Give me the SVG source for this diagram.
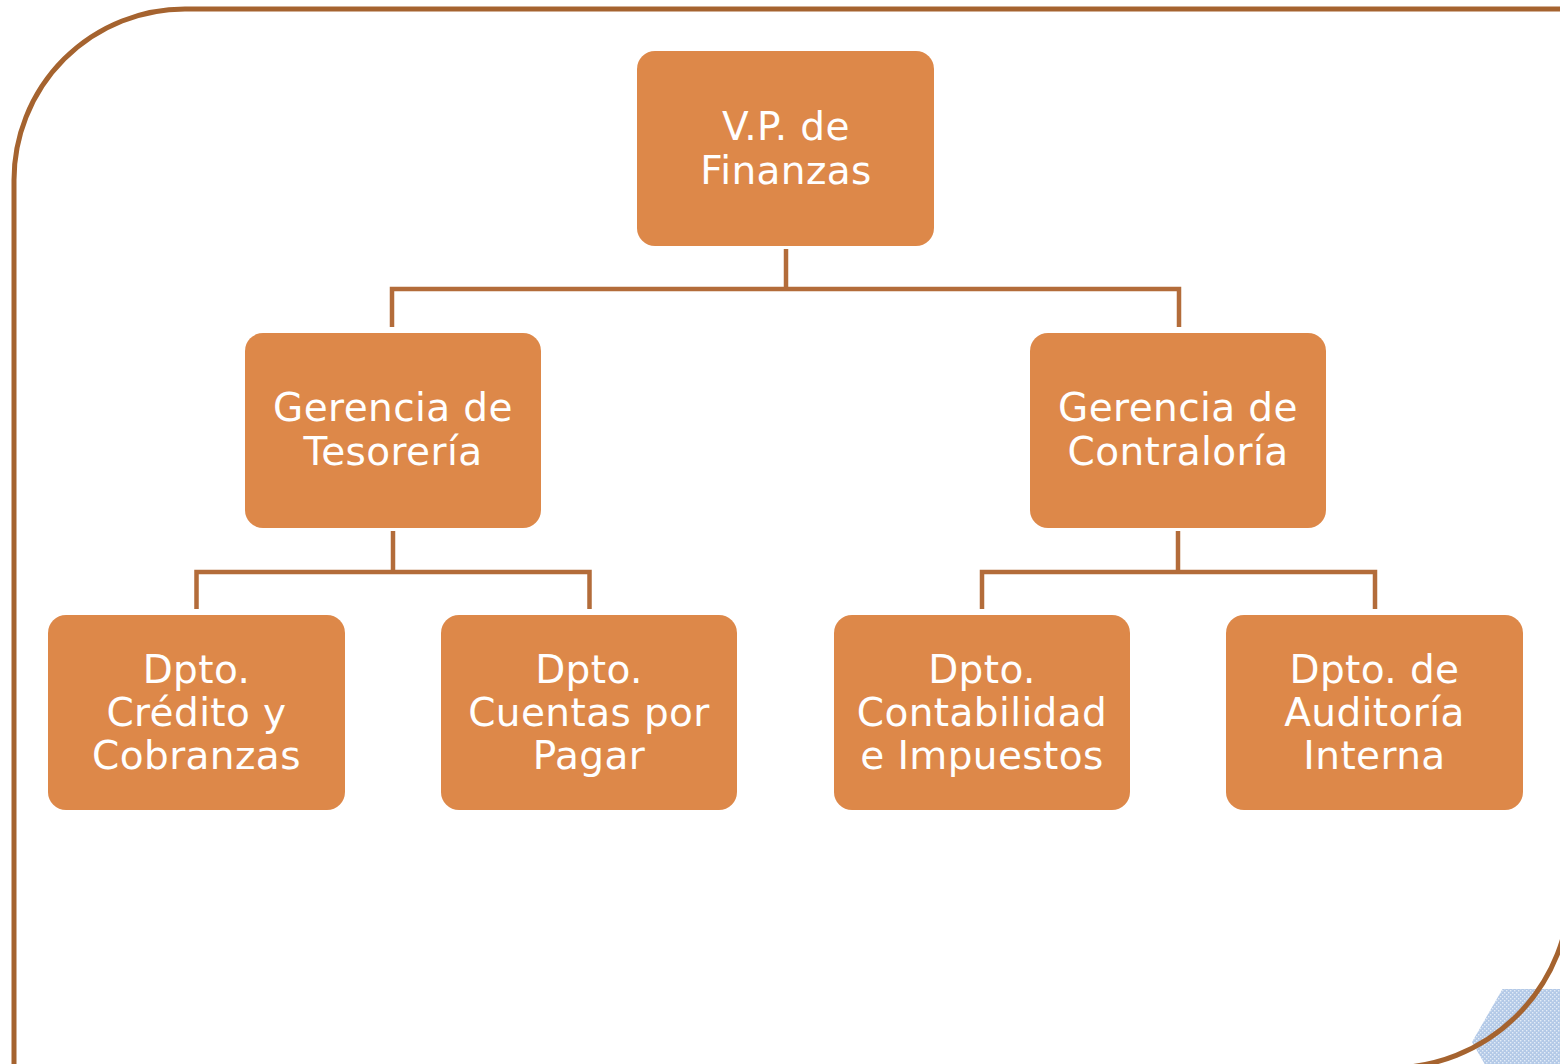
<svg xmlns="http://www.w3.org/2000/svg" width="1560" height="1064" viewBox="0 0 1560 1064">
  <style>
    .node rect { fill: #DD8849; }
    .node text { fill: #FFFFFF; font-family: "DejaVu Sans", Verdana, sans-serif; font-size: 39px; letter-spacing: 0.4px; text-anchor: middle; }
    .conn { fill: none; stroke: #B36C3A; stroke-width: 4.5; }
    .frame { fill: none; stroke: #A5632F; stroke-width: 5; }
  </style>
  <defs>
    <pattern id="dots" width="4" height="4" patternUnits="userSpaceOnUse">
      <rect width="4" height="4" fill="#B3C9E7"/>
      <rect x="0" y="0" width="1.4" height="1.4" fill="#E3ECF7"/>
      <rect x="2" y="2" width="1.4" height="1.4" fill="#E3ECF7"/>
    </pattern>
  </defs>
  <rect width="1560" height="1064" fill="#FFFFFF"/>
  <g id="decor">
    <polygon points="1472,1042 1502.5,989 1563.5,989 1594,1042 1563.5,1095 1502.5,1095" fill="url(#dots)"/>
    <path class="frame" d="M14,1075 L14,180 A171,171 0 0 1 185,9 L1570,9 L1570,888 A180,180 0 0 1 1390,1068 L14,1068"/>
  </g>
  <g id="connectors">
    <path class="conn" d="M786,249 V289"/>
    <path class="conn" d="M392,327 V289 H1179 V327"/>
    <path class="conn" d="M393,531 V572"/>
    <path class="conn" d="M196.5,609 V572 H589.5 V609"/>
    <path class="conn" d="M1178,531 V572"/>
    <path class="conn" d="M982,609 V572 H1375 V609"/>
  </g>
  <g id="n-vp" class="node">
    <rect x="637" y="51" width="297" height="195" rx="18"/>
    <text x="786" y="140">V.P. de</text>
    <text x="786" y="184">Finanzas</text>
  </g>
  <g id="n-tesoreria" class="node">
    <rect x="245" y="333" width="296" height="195" rx="18"/>
    <text x="393" y="421">Gerencia de</text>
    <text x="393" y="465">Tesorería</text>
  </g>
  <g id="n-contraloria" class="node">
    <rect x="1030" y="333" width="296" height="195" rx="18"/>
    <text x="1178" y="421">Gerencia de</text>
    <text x="1178" y="465">Contraloría</text>
  </g>
  <g id="n-credito" class="node">
    <rect x="48" y="615" width="297" height="195" rx="18"/>
    <text x="196.5" y="683">Dpto.</text>
    <text x="196.5" y="726">Crédito y</text>
    <text x="196.5" y="769">Cobranzas</text>
  </g>
  <g id="n-cuentas" class="node">
    <rect x="441" y="615" width="296" height="195" rx="18"/>
    <text x="589" y="683">Dpto.</text>
    <text x="589" y="726">Cuentas por</text>
    <text x="589" y="769">Pagar</text>
  </g>
  <g id="n-contabilidad" class="node">
    <rect x="834" y="615" width="296" height="195" rx="18"/>
    <text x="982" y="683">Dpto.</text>
    <text x="982" y="726">Contabilidad</text>
    <text x="982" y="769">e Impuestos</text>
  </g>
  <g id="n-auditoria" class="node">
    <rect x="1226" y="615" width="297" height="195" rx="18"/>
    <text x="1374.5" y="683">Dpto. de</text>
    <text x="1374.5" y="726">Auditoría</text>
    <text x="1374.5" y="769">Interna</text>
  </g>
</svg>
